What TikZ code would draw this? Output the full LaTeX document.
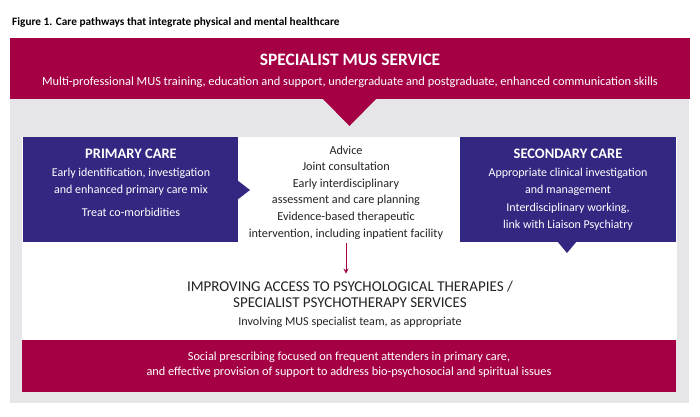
\documentclass[tikz,border=0pt]{standalone}
\usepackage{fontspec}
\setmainfont{Carlito}
\usetikzlibrary{calc,arrows.meta,positioning}
\definecolor{musred}{RGB}{165,0,68}
\definecolor{musblue}{RGB}{50,40,130}
\definecolor{musgrey}{RGB}{230,230,232}
\definecolor{mustext}{RGB}{35,35,35}

\begin{document}
\begin{tikzpicture}[x=1pt,y=-1pt,
	redbox/.style={fill=musred,inner sep=0pt,outer sep=0pt},
	bluebox/.style={fill=musblue,inner sep=0pt,outer sep=0pt,minimum width=215,minimum height=105},
	whitetxt/.style={text=white,align=center,inner sep=0pt},
	darktxt/.style={text=mustext,align=center,inner sep=0pt},
	boxhead/.style={font=\bfseries\fontsize{14.5}{17}\selectfont},
	bodytxt/.style={font=\fontsize{12}{17}\selectfont},
	pointer/.style={draw=musred,line width=0.9pt,-{Stealth[length=5pt,width=5pt]}}]
		%%%%% START %%%%%
		\useasboundingbox (0,0) rectangle (700,416);
		
		\node[anchor=west,inner sep=0pt,text=black,font=\bfseries\fontsize{11.3}{14}\selectfont] (caption) at (12,22) {Figure 1. Care pathways that integrate physical and mental healthcare};
		
		\fill[musgrey] (10,99) rectangle (689,403);
		\fill[white] (22,137) rectangle (677,340);
		
		\node[redbox,minimum width=680,minimum height=61] (banner) at (350,68.5) {};
		\fill[musred] (322,98) -- (377,98) -- (349.5,126) -- cycle;
		\node[whitetxt,font=\bfseries\fontsize{17.4}{20}\selectfont] (bannerhead) at (350,60) {SPECIALIST MUS SERVICE};
		\node[whitetxt,font=\fontsize{12.4}{15}\selectfont] (bannersub) at (350,82) {Multi-professional MUS training, education and support, undergraduate and postgraduate, enhanced communication skills};
		
		\node[bluebox] (primary) at (130.5,189.5) {};
		\fill[musblue] (237,180) -- (250,190) -- (237,200) -- cycle;
		\node[whitetxt,boxhead] (primaryhead) at (131,154) {PRIMARY CARE};
		\node[whitetxt,bodytxt] (primarybody) at (131,181.5) {Early identification, investigation\\and enhanced primary care mix};
		\node[whitetxt,bodytxt] (primaryco) at (131,212) {Treat co-morbidities};
		
		\node[bluebox,minimum width=216] (secondary) at (568,189.5) {};
		\fill[musblue] (557,241) -- (577,241) -- (567,253) -- cycle;
		\node[whitetxt,boxhead] (secondaryhead) at (568,154) {SECONDARY CARE};
		\node[whitetxt,bodytxt] (secondarybody) at (568,181.5) {Appropriate clinical investigation\\and management};
		\node[whitetxt,bodytxt] (secondarylink) at (568,216.5) {Interdisciplinary working,\\link with Liaison Psychiatry};
		
		\node[darktxt,font=\fontsize{12.2}{16.6}\selectfont] (joint) at (346,192.5) {Advice\\Joint consultation\\Early interdisciplinary\\assessment and care planning\\Evidence-based therapeutic\\intervention, including inpatient facility};
		
		\node[darktxt,font=\fontsize{15}{16}\selectfont] (iapt) at (350,294) {IMPROVING ACCESS TO PSYCHOLOGICAL THERAPIES /\\SPECIALIST PSYCHOTHERAPY SERVICES};
		\node[darktxt,font=\fontsize{12.1}{14}\selectfont] (involving) at (350,322) {Involving MUS specialist team, as appropriate};
		\draw[pointer] ([yshift=-4pt]joint.south) -- ([yshift=7pt]joint.south |- iapt.north);
		
		\node[redbox,minimum width=654,minimum height=52] (social) at (349,366) {};
		\node[whitetxt,font=\fontsize{12.3}{15.5}\selectfont] (socialtxt) at (349,364.5) {Social prescribing focused on frequent attenders in primary care,\\and effective provision of support to address bio-psychosocial and spiritual issues};
		
		%%%%% END %%%%%
	\end{tikzpicture}
\end{document}
